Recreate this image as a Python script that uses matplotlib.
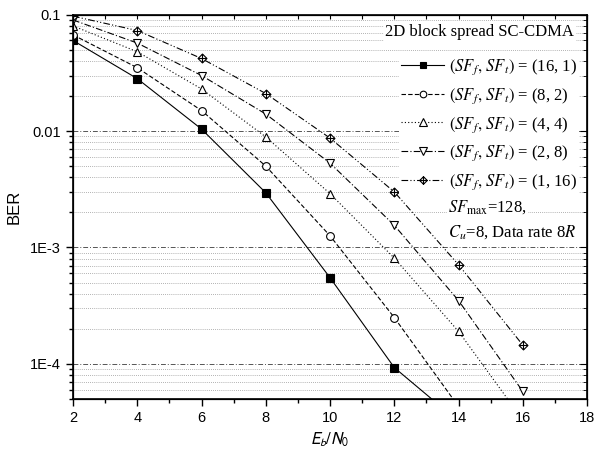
import numpy as np
import matplotlib
matplotlib.use("Agg")
import matplotlib.pyplot as plt
from matplotlib.path import Path
from matplotlib.ticker import LogLocator, FixedLocator, FixedFormatter, MultipleLocator, NullFormatter

plt.rcParams['font.family'] = ['Liberation Sans', 'DejaVu Sans']
plt.rcParams['mathtext.fontset'] = 'stix'

# data
ebn0 = [2, 4, 6, 8, 10, 12, 14, 16]
ber_16_1 = [0.060, 0.0282, 0.0104, 0.00295, 5.5e-4, 9.3e-5, 3.2e-5]
ber_8_2 = [0.067, 0.035, 0.015, 0.0050, 1.26e-3, 2.5e-4, 4.3e-5]
ber_4_4 = [0.080, 0.048, 0.023, 0.0089, 0.0029, 8.1e-4, 1.9e-4, 3.3e-5]
ber_2_8 = [0.090, 0.057, 0.030, 0.014, 0.0053, 1.55e-3, 3.5e-4, 5.8e-5]
ber_1_16 = [0.097, 0.073, 0.042, 0.021, 0.0087, 0.0030, 7.1e-4, 1.45e-4]
sf_pairs = ["(16, 1)", "(8, 2)", "(4, 4)", "(2, 8)", "(1, 16)"]
ytick_vals = [1e-4, 1e-3, 1e-2, 1e-1]
ytick_labels = ["1E-4", "1E-3", "0.01", "0.1"]

# crossed diamond marker
crossdiamond = Path(
    [(0, 1), (1, 0), (0, -1), (-1, 0), (0, 1), (0, 1), (0, -1), (-1, 0), (1, 0)],
    [Path.MOVETO, Path.LINETO, Path.LINETO, Path.LINETO, Path.CLOSEPOLY,
     Path.MOVETO, Path.LINETO, Path.MOVETO, Path.LINETO])

fig = plt.figure(figsize=(5.95, 4.57), dpi=100)
ax = fig.add_axes([0.1227, 0.127, 0.864, 0.841])

series = [ber_16_1, ber_8_2, ber_4_4, ber_2_8, ber_1_16]
markers = ['s', 'o', '^', 'v', crossdiamond]
dashes = [(None, None), (4, 2), (1, 2), (6, 2, 1, 2), (6, 2, 1, 2, 1, 2)]
mfcs = ['black', 'white', 'white', 'white', 'white']
msizes = [5.2, 5.6, 6.2, 6.2, 6.4]

handles = []
for ys, m, d, fc, ms, lab in zip(series, markers, dashes, mfcs, msizes, sf_pairs):
    ln, = ax.plot(ebn0[:len(ys)], ys, color='black', lw=0.8, marker=m, ms=ms,
                  mfc=fc, mec='black', mew=0.8,
                  label=r"$(SF_f,\,SF_t)$ = " + lab)
    if d[0] is not None:
        ln.set_dashes(d)
    handles.append(ln)

ax.set_yscale('log')
ax.set_xlim(2, 18)
ax.set_ylim(5e-5, 0.1)

ax.xaxis.set_major_locator(MultipleLocator(2))
ax.xaxis.set_minor_locator(MultipleLocator(1))
ax.yaxis.set_major_locator(FixedLocator(ytick_vals))
ax.yaxis.set_major_formatter(FixedFormatter(ytick_labels))
ax.yaxis.set_minor_locator(LogLocator(base=10, subs=np.arange(2, 10)))
ax.yaxis.set_minor_formatter(NullFormatter())

ax.tick_params(which='major', direction='out', length=5, width=1, labelsize=10.5)
ax.tick_params(which='minor', direction='out', length=3, width=1)
for sp in ax.spines.values():
    sp.set_linewidth(1.2)

# inward ticks on top and right like the original
ax2 = ax.twinx()
ax2.set_yscale('log')
ax2.set_ylim(ax.get_ylim())
ax2.yaxis.set_major_locator(FixedLocator(ytick_vals))
ax2.yaxis.set_minor_locator(LogLocator(base=10, subs=np.arange(2, 10)))
ax2.tick_params(which='both', direction='in', labelright=False)
ax2.tick_params(which='major', length=5)
ax2.tick_params(which='minor', length=3)
ax3 = ax.twiny()
ax3.set_xlim(ax.get_xlim())
ax3.xaxis.set_major_locator(MultipleLocator(1))
ax3.tick_params(direction='in', length=3, labeltop=False)

ax.grid(True, which='major', axis='y', color='#555555', lw=0.7, linestyle=(0, (5, 2, 1, 2)))
ax.grid(True, which='minor', axis='y', color='#999999', lw=0.6, linestyle=(0, (1, 1.5)))
ax.set_axisbelow(True)

ax.set_ylabel("BER", fontsize=12, labelpad=6)
ax.set_xlabel("$E_b/N_0$", fontsize=12, math_fontfamily='stixsans')

leg = ax.legend(handles=handles, loc='upper left', bbox_to_anchor=(0.635, 0.893),
                frameon=True, fancybox=False, edgecolor='none', facecolor='white',
                framealpha=1, handlelength=2.6, handletextpad=0.3, markerscale=0.85,
                labelspacing=0.55, borderpad=0.1, borderaxespad=0,
                prop={'family': 'Liberation Serif', 'size': 12})
leg.set_zorder(5)

ax.text(0.975, 0.955, "2D block spread SC-CDMA", transform=ax.transAxes,
        ha='right', va='center', family='Liberation Serif', fontsize=12,
        bbox=dict(facecolor='white', edgecolor='none', pad=1), zorder=6)
ax.text(0.73, 0.50, r"$SF_{\rm max}$=128,", transform=ax.transAxes,
        ha='left', va='center', family='Liberation Serif', fontsize=12,
        bbox=dict(facecolor='white', edgecolor='none', pad=1), zorder=6)
ax.text(0.73, 0.435, r"$C_u$=8, Data rate 8$R$", transform=ax.transAxes,
        ha='left', va='center', family='Liberation Serif', fontsize=12,
        bbox=dict(facecolor='white', edgecolor='none', pad=1), zorder=6)

fig.savefig("out.png", dpi=100)
